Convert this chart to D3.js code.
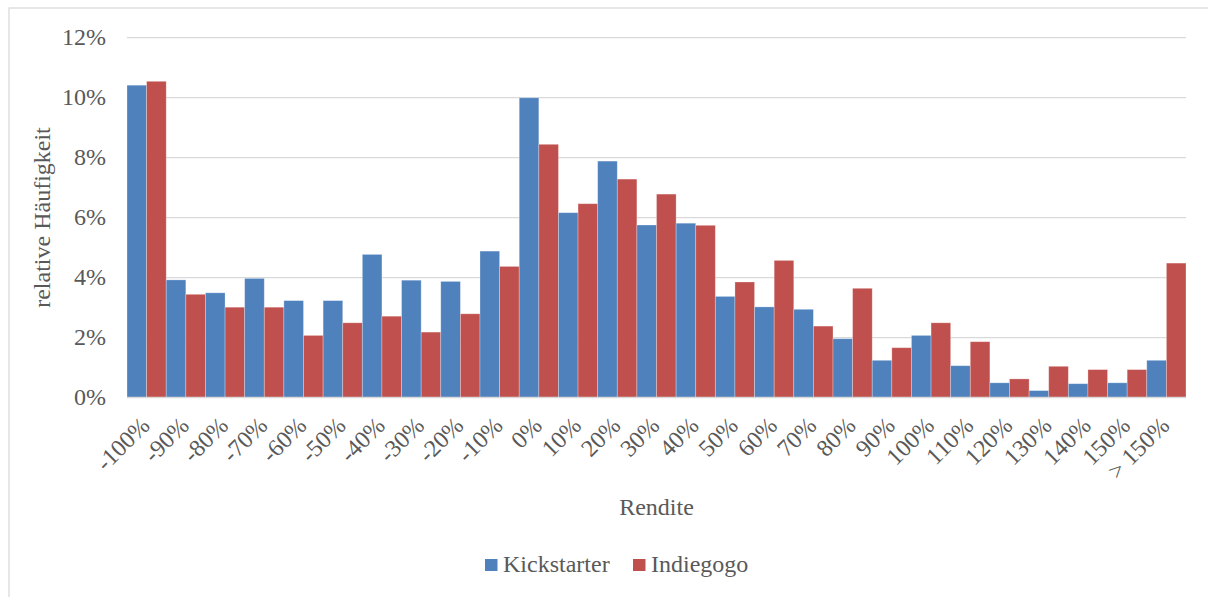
<!DOCTYPE html>
<html>
<head>
<meta charset="utf-8">
<script src="https://cdn.jsdelivr.net/npm/d3@7"></script>
<style>
  html, body { margin: 0; padding: 0; background: #fff; }
  svg { display: block; }
  text { font-family: "Liberation Serif", "Times New Roman", serif; fill: #595959; }
</style>
</head>
<body>
<svg id="chart" width="1208" height="597"></svg>
<script>
// Return classes (Rendite) and relative frequency per platform, in percent
const categories = ["-100%", "-90%", "-80%", "-70%", "-60%", "-50%", "-40%", "-30%", "-20%", "-10%",
  "0%", "10%", "20%", "30%", "40%", "50%", "60%", "70%", "80%", "90%", "100%", "110%", "120%",
  "130%", "140%", "150%", "> 150%"];
const kickstarter = [10.41, 3.92, 3.49, 3.97, 3.23, 3.23, 4.77, 3.91, 3.87, 4.88,
  9.99, 6.16, 7.88, 5.75, 5.81, 3.37, 3.02, 2.94, 1.96, 1.24, 2.07, 1.06, 0.49,
  0.23, 0.46, 0.49, 1.24];
const indiegogo = [10.54, 3.44, 3.01, 3.01, 2.07, 2.49, 2.71, 2.18, 2.79, 4.37,
  8.44, 6.46, 7.28, 6.78, 5.74, 3.85, 4.57, 2.38, 3.64, 1.66, 2.49, 1.86, 0.62,
  1.04, 0.93, 0.93, 4.48];
const seriesNames = ["Kickstarter", "Indiegogo"];
const seriesColors = ["#4F81BD", "#C0504D"];
const yTicks = [0, 2, 4, 6, 8, 10, 12];

const svg = d3.select("#chart");
const plot = { left: 127, right: 1186, top: 37.5, bottom: 397.5 };

// Chart area frame
svg.append("rect")
  .attr("x", 9).attr("y", 8).attr("width", 1220).attr("height", 620)
  .attr("fill", "#fff").attr("stroke", "#D9D9D9").attr("stroke-width", 1.25);

const x = d3.scaleBand().domain(categories).range([plot.left, plot.right]).padding(0);
const xs = d3.scaleBand().domain(seriesNames).range([0, x.bandwidth()]).padding(0);
const y = d3.scaleLinear().domain([0, 12]).range([plot.bottom, plot.top]);

// Horizontal gridlines
svg.append("g").selectAll("line").data(yTicks.filter(d => d > 0)).join("line")
  .attr("x1", plot.left).attr("x2", plot.right)
  .attr("y1", d => y(d)).attr("y2", d => y(d))
  .attr("stroke", "#D9D9D9").attr("stroke-width", 1.25);

// Y tick labels
svg.append("g").selectAll("text").data(yTicks).join("text")
  .attr("x", 106).attr("y", d => y(d)).attr("dy", "0.33em")
  .attr("text-anchor", "end").attr("font-size", 24)
  .text(d => d + "%");

// Bars
const rows = categories.map((c, i) => ({ c, vals: [kickstarter[i], indiegogo[i]] }));
const groups = svg.append("g").selectAll("g").data(rows).join("g")
  .attr("transform", d => `translate(${x(d.c)},0)`);
groups.selectAll("rect").data(d => d.vals.map((v, j) => ({ v, s: seriesNames[j], col: seriesColors[j] })))
  .join("rect")
  .attr("x", d => xs(d.s))
  .attr("width", xs.bandwidth())
  .attr("y", d => y(d.v))
  .attr("height", d => y(0) - y(d.v))
  .attr("fill", d => d.col)
  .attr("stroke", "#fff").attr("stroke-opacity", 0.35).attr("stroke-width", 0.8);

// Category axis line
svg.append("line")
  .attr("x1", plot.left).attr("x2", plot.right)
  .attr("y1", plot.bottom).attr("y2", plot.bottom)
  .attr("stroke", "#D9D9D9").attr("stroke-width", 1.5);

// Category labels, rotated
svg.append("g").selectAll("text").data(categories).join("text")
  .attr("transform", d => `translate(${x(d) + x.bandwidth() / 2 + 4.5},427) rotate(-45)`)
  .attr("text-anchor", "end").attr("font-size", 24)
  .text(d => d);

// Axis titles
svg.append("text")
  .attr("x", (plot.left + plot.right) / 2).attr("y", 515)
  .attr("text-anchor", "middle").attr("font-size", 24)
  .text("Rendite");
svg.append("text")
  .attr("transform", `translate(50,${(plot.top + plot.bottom) / 2}) rotate(-90)`)
  .attr("text-anchor", "middle").attr("font-size", 24)
  .text("relative Häufigkeit");

// Legend
const legendX = [485, 633];
const legend = svg.append("g").selectAll("g").data(seriesNames).join("g")
  .attr("transform", (d, i) => `translate(${legendX[i]},559)`);
legend.append("rect").attr("width", 12.5).attr("height", 12)
  .attr("fill", (d, i) => seriesColors[i]);
legend.append("text").attr("x", 18).attr("y", 13).attr("font-size", 24).text(d => d);
</script>
</body>
</html>
